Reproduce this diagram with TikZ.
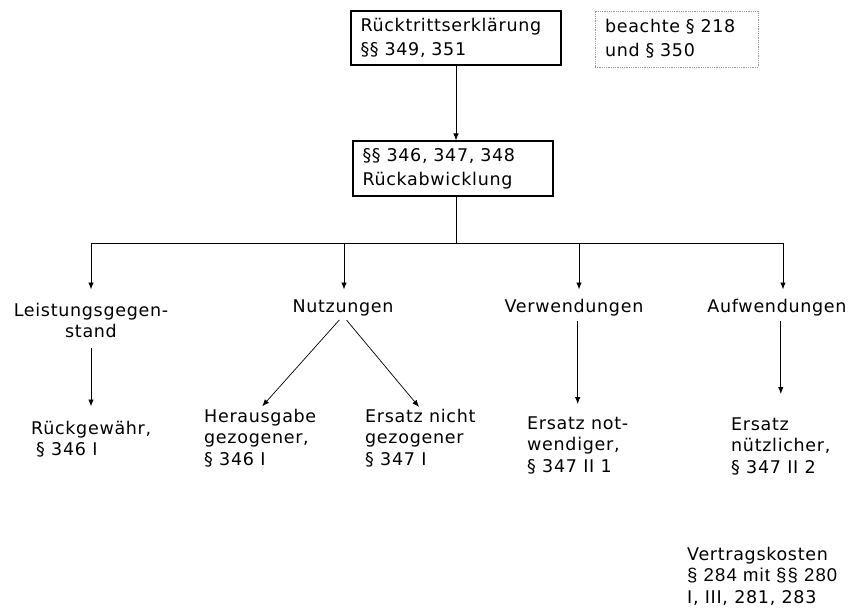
\documentclass[tikz,border=0pt]{standalone}
\usepackage{fontspec}
\setmainfont{DejaVu Sans}[LetterSpace=4]
\newfontfamily\kostenfont{Liberation Sans}[LetterSpace=6]
\usetikzlibrary{arrows.meta}

\begin{document}
\begin{tikzpicture}[x=1pt,y=-1pt,
	txt/.style={inner sep=0pt,align=left,font=\fontsize{17.5}{21.5}\selectfont},
	kasten/.style={draw,line width=1.1pt,inner xsep=9.5pt,align=left,font=\fontsize{17.5}{24}\selectfont},
	hinweis/.style={draw=gray!80,densely dotted,line width=0.8pt,inner xsep=10pt,align=left,font=\fontsize{17.5}{24}\selectfont},
	pfeil/.style={-{Latex[length=7pt,width=5.5pt]},line width=0.9pt}]
\useasboundingbox (0,0) rectangle (851,610);
% Kopf
\node[kasten,text width=191pt,minimum height=54pt] (ruecktritt) at (456,38) {Rücktrittserklärung\\§§ 349, 351};
\node[hinweis,text width=143pt,minimum height=56pt] (beachte) at (676.5,39) {beachte § 218\\und § 350};
\node[kasten,text width=181pt,minimum height=55pt] (rueckabw) at (453,168.5) {§§ 346, 347, 348\\Rückabwicklung};
\draw[pfeil] (ruecktritt.south) -- (ruecktritt.south |- rueckabw.north);
% erste Ebene (base = letzte Zeile)
\node[txt,align=center,anchor=base] (leistung) at (91,337.5) {Leistungsgegen-\\stand};
\node[txt,anchor=base] (nutzungen) at (343,312) {Nutzungen};
\node[txt,anchor=base] (verwendungen) at (574,312) {Verwendungen};
\node[txt,anchor=base] (aufwendungen) at (777,312) {Aufwendungen};
\coordinate (ast) at (456,243);
\draw[line width=0.9pt] (ruecktritt.south |- rueckabw.south) -- (ast);
\draw[pfeil,shorten >=13pt] (ast) -| (leistung.north);
\draw[pfeil,shorten >=9.5pt] (ast) -| ([xshift=1pt]nutzungen.north);
\draw[pfeil,shorten >=9pt] (ast) -| ([xshift=5pt]verwendungen.north);
\draw[pfeil,shorten >=9pt] (ast) -| ([xshift=6pt]aufwendungen.north);
% zweite Ebene
\node[txt,anchor=base west] (rueckgewaehr) at (31,455.5) {Rückgewähr,\\\hspace{5pt}§ 346 I};
\node[txt,anchor=base west] (herausgabe) at (204,465) {Herausgabe\\gezogener,\\§ 346 I};
\node[txt,anchor=base west] (ersatznicht) at (365,465) {Ersatz nicht\\gezogener\\§ 347 I};
\node[txt,anchor=base west] (notwendig) at (527,472) {Ersatz not-\\wendiger,\\§ 347 II 1};
\node[txt,anchor=base west] (nuetzlich) at (731,473) {Ersatz\\nützlicher,\\§ 347 II 2};
\node[txt,anchor=base west] (kosten) at (687,603) {Vertragskosten\\{\kostenfont\fontsize{18.5}{22}\selectfont § 284 mit §§ 280}\\I, III, 281, 283};
\draw[pfeil,shorten <=10pt,shorten >=14pt] (leistung.south) -- (leistung.south |- rueckgewaehr.north);
\draw[pfeil,line width=0.7pt,shorten <=5.5pt,shorten >=3pt] (nutzungen.south) -- (herausgabe.north);
\draw[pfeil,line width=0.7pt,shorten <=5.5pt,shorten >=2pt] (nutzungen.south) -- (ersatznicht.north);
\draw[pfeil,shorten <=5pt,shorten >=12pt] (notwendig.north |- verwendungen.south) -- (notwendig.north);
\draw[pfeil,shorten <=5pt,shorten >=23pt] (nuetzlich.north |- aufwendungen.south) -- (nuetzlich.north);
\end{tikzpicture}
\end{document}
